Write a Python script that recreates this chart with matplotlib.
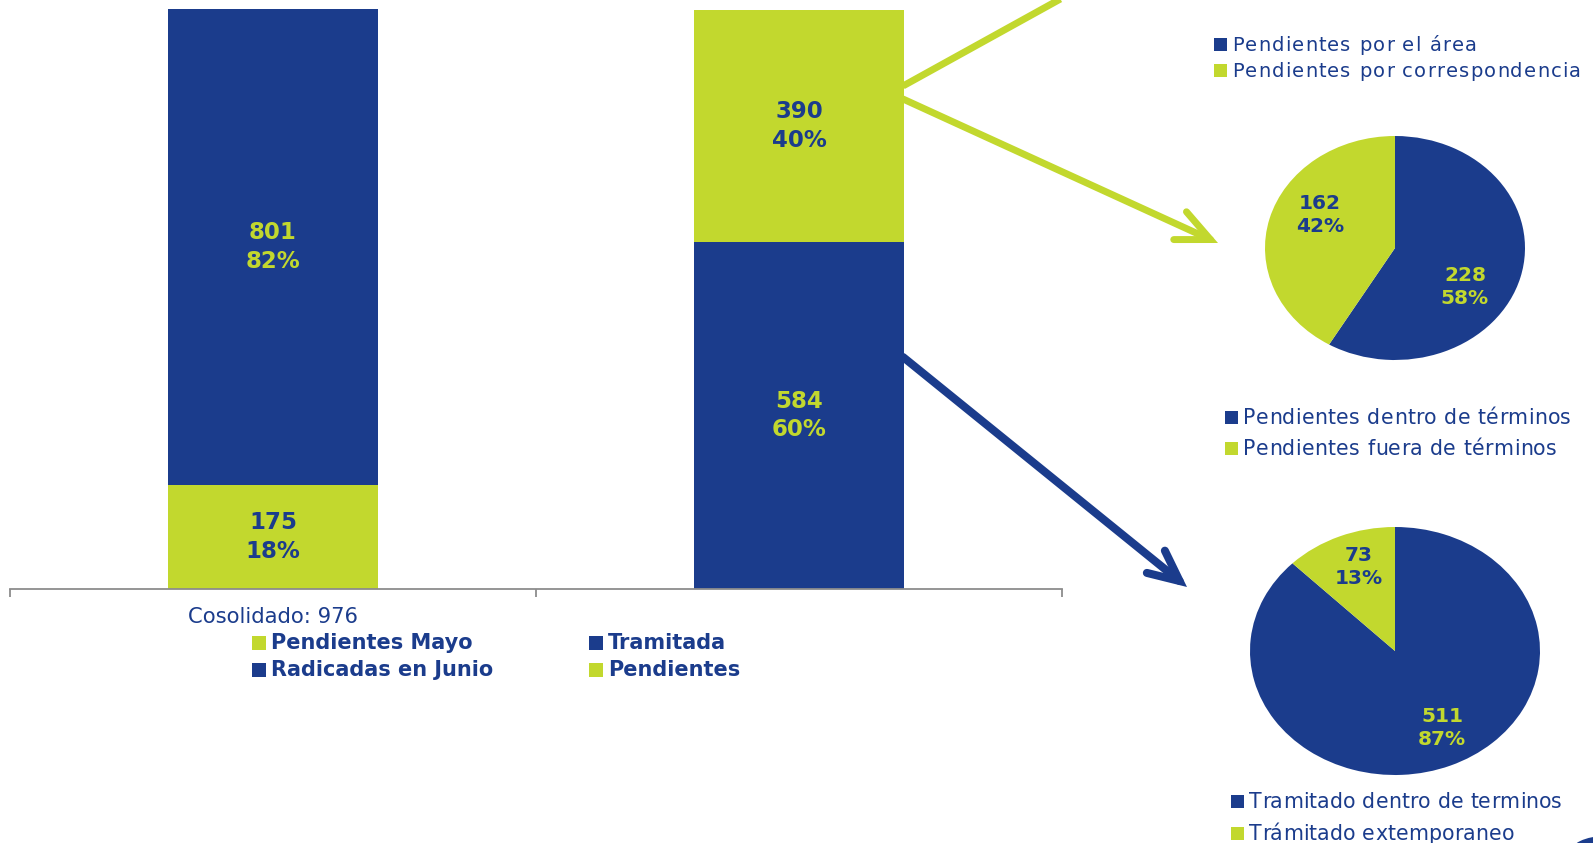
import matplotlib
matplotlib.use("Agg")
import matplotlib.pyplot as plt
from matplotlib.patches import Rectangle, FancyArrowPatch, ArrowStyle, Ellipse
from matplotlib.lines import Line2D
from matplotlib.font_manager import FontProperties, findfont, get_font

# the reference is a horizontally stretched slide, DejaVu (wide) imitates it best
plt.rcParams['font.family'] = ['DejaVu Sans']

BLUE = '#1B3C8C'
GREEN = '#C2D82E'
GRAY = '#8C8C8C'

# Barras apiladas
bar_groups = ['Cosolidado: 976', '']
bar_bottom_vals = [175, 584]
bar_top_vals = [801, 390]
bar_bottom_pct = [18, 60]
bar_top_pct = [82, 40]
bar_bottom_colors = [GREEN, BLUE]
bar_top_colors = [BLUE, GREEN]
bar_legend_col1 = ['Pendientes Mayo', 'Radicadas en Junio']
bar_legend_col2 = ['Tramitada', 'Pendientes']

# Torta 1 (pendientes)
pie1_vals = [228, 162]
pie1_pct = [58, 42]
legend_top = ['Pendientes por el área', 'Pendientes por correspondencia']
legend_mid = ['Pendientes dentro de términos', 'Pendientes fuera de términos']

# Torta 2 (tramitadas)
pie2_vals = [511, 73]
pie2_pct = [87, 13]
legend_bottom = ['Tramitado dentro de terminos', 'Trámitado extemporaneo']

W, H = 1593, 843
DPI = 100
fig = plt.figure(figsize=(W / DPI, H / DPI), dpi=DPI)


def fx(x):
    return x / W


def fy(y):
    return 1 - y / H


# ---- bar chart ----
ax = fig.add_axes([fx(10), fy(589), (1062 - 10) / W, 589 / H])
x = range(len(bar_groups))
ax.bar(x, bar_bottom_vals, 0.4, color=bar_bottom_colors)
ax.bar(x, bar_top_vals, 0.4, bottom=bar_bottom_vals, color=bar_top_colors)
ax.set_xlim(-0.5, 1.5)
ax.set_ylim(0, 976 * 589 / 580)
for i in x:
    b, t = bar_bottom_vals[i], bar_top_vals[i]
    ax.text(i, b / 2, f"{b}\n{bar_bottom_pct[i]}%", ha='center', va='center',
            fontsize=16.5, fontweight='bold', color=bar_top_colors[i], linespacing=1.3)
    ax.text(i, b + t / 2, f"{t}\n{bar_top_pct[i]}%", ha='center', va='center',
            fontsize=16.5, fontweight='bold', color=bar_bottom_colors[i], linespacing=1.3)

for s in ['top', 'left', 'right']:
    ax.spines[s].set_visible(False)
ax.spines['bottom'].set_color(GRAY)
ax.spines['bottom'].set_linewidth(1.3)
ax.set_yticks([])
ax.set_xticks(list(x))
ax.set_xticklabels(bar_groups, fontsize=15.2, color=BLUE)
ax.tick_params(axis='x', which='major', length=0, pad=13)
ax.set_xticks([-0.5, 0.5, 1.5], minor=True)
ax.tick_params(axis='x', which='minor', length=6, width=1.3, color=GRAY, direction='out')
ax.patch.set_alpha(0)


def legend_rows(x0, ys, labels, colors, sq, size, weight='normal', width=None):
    """squares + text; if width is given the text is letter-spaced to that width"""
    fp = FontProperties(family='DejaVu Sans', size=size, weight=weight)
    font = get_font(findfont(fp))
    font.set_size(size, DPI)
    extra = 0
    if width is not None:
        longest = max(labels, key=len)
        adv = sum(font.load_char(ord(c)).linearHoriAdvance / 65536 for c in longest)
        extra = max(0, (width - adv) / (len(longest) - 1))
    for y, lab, col in zip(ys, labels, colors):
        fig.add_artist(Rectangle((fx(x0), fy(y + sq / 2)), sq / W, sq / H,
                                 transform=fig.transFigure, color=col, lw=0))
        tx = x0 + sq + 5
        if width is None:
            fig.text(fx(tx), fy(y), lab, fontproperties=fp, color=BLUE, va='center')
            continue
        base = y + size * DPI / 72 * 0.729 / 2
        for c in lab:
            font.set_size(size, DPI)
            adv = font.load_char(ord(c)).linearHoriAdvance / 65536
            fig.text(fx(tx), fy(base), c, fontproperties=fp, color=BLUE, va='baseline')
            tx += adv + extra


legend_rows(252, [643, 670], bar_legend_col1, [GREEN, BLUE], 14, 15, 'bold')
legend_rows(589, [643, 670], bar_legend_col2, [BLUE, GREEN], 14, 15, 'bold')

# ---- pies ----
def pie(box, vals, pct, label_pos):
    l, t, r, b = box
    axp = fig.add_axes([fx(l), fy(b), (r - l) / W, (b - t) / H])
    axp.pie(vals, colors=[BLUE, GREEN], startangle=90, counterclock=False,
            wedgeprops=dict(linewidth=0))
    axp.set_aspect('auto')
    axp.set_xlim(-1, 1)
    axp.set_ylim(-1, 1)
    txt_colors = [GREEN, BLUE]
    for v, p, (px, py), c in zip(vals, pct, label_pos, txt_colors):
        axp.text(px, py, f"{v}\n{p}%", ha='center', va='center', fontsize=14.5,
                 fontweight='bold', color=c, linespacing=1.3)


pie((1265, 136, 1525, 360), pie1_vals, pie1_pct, [(0.538, -0.348), (-0.577, 0.295)])
pie((1250, 527, 1540, 775), pie2_vals, pie2_pct, [(0.324, -0.621), (-0.248, 0.677)])

legend_rows(1214, [44, 70], legend_top, [BLUE, GREEN], 13, 14, width=349)
legend_rows(1225, [417, 448], legend_mid, [BLUE, GREEN], 13, 14.8, width=328)
legend_rows(1231, [801, 833], legend_bottom, [BLUE, GREEN], 13, 14.8, width=313)

# ---- arrows ----
fig.add_artist(Line2D([fx(903), fx(1140)], [fy(86), fy(-45)], transform=fig.transFigure,
                      color=GREEN, lw=5, solid_capstyle='butt'))
green_arrow = FancyArrowPatch((fx(903), fy(99)), (fx(1218), fy(243)), transform=fig.transFigure,
                              arrowstyle=ArrowStyle('->', head_length=24, head_width=11),
                              mutation_scale=1, color=GREEN, lw=5, shrinkA=0, shrinkB=0,
                              capstyle='round', joinstyle='miter')
fig.add_artist(green_arrow)
blue_arrow = FancyArrowPatch((fx(903), fy(357)), (fx(1187), fy(587)), transform=fig.transFigure,
                             arrowstyle=ArrowStyle('->', head_length=22, head_width=10.3),
                             mutation_scale=1, color=BLUE, lw=5.8, shrinkA=0, shrinkB=0,
                             capstyle='round', joinstyle='miter')
fig.add_artist(blue_arrow)

# logo corner
fig.add_artist(Ellipse((fx(1605), fy(853)), 70 / W, 34 / H, transform=fig.transFigure,
                       color=BLUE, lw=0))

fig.savefig('out.png', dpi=DPI)
